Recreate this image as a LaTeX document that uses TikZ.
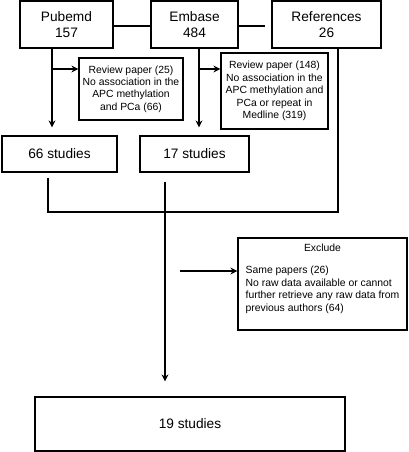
\documentclass[tikz,border=0pt]{standalone}
\usepackage{fontspec}
\setmainfont{Liberation Sans}
\usetikzlibrary{positioning,arrows.meta}
\tikzset{
	>={Stealth[length=7pt,width=7pt]},
	box/.style={draw, line width=1.2pt, inner sep=0pt, align=center, font=\fontsize{13.7}{16.5}\selectfont},
	smallbox/.style={draw, line width=1.2pt, inner sep=0pt, align=center, font=\fontsize{10.4}{12.4}\selectfont},
	link/.style={line width=1.6pt},
}

\begin{document}
\begin{tikzpicture}[x=1pt, y=-1pt]
        \useasboundingbox (0,0) rectangle (408,452);

        \node[box, minimum width=93pt, minimum height=47pt] (pub) at (66.5,24.5) {Pubemd\\157};
        \node[box, minimum width=87pt, minimum height=47pt] (emb) at (194.5,24.5) {Embase\\484};
        \node[box, minimum width=109pt, minimum height=47pt] (ref) at (326.5,24.5) {References\\26};

        \node[smallbox, minimum width=104pt, minimum height=62pt] (rev1) at (131,89)
            {Review paper (25)\\No association in the\\APC methylation\\and PCa (66)};
        \node[smallbox, minimum width=107pt, minimum height=76pt] (rev2) at (274.5,91)
            {Review paper (148)\\No association in the\\APC methylation and\\PCa or repeat in\\Medline (319)};

        \node[box, minimum width=115pt, minimum height=36pt] (stud66) at (59.5,154) {66 studies};
        \node[box, minimum width=109pt, minimum height=36pt] (stud17) at (194.5,154) {17 studies};

        \node[smallbox, align=left, minimum width=169pt, minimum height=92pt,
            label={[anchor=north, inner sep=0pt, yshift=-6pt, font=\fontsize{10.4}{12.4}\selectfont]north:Exclude}]
            (excl) at (322.5,284) {\rule{0pt}{19pt}Same papers (26)\\No raw data available or cannot\\further retrieve any raw data from\\previous authors (64)};

        \node[box, minimum width=310pt, minimum height=54pt] (final) at (190,424) {19 studies};

        \coordinate (gap) at (265,26);
        \coordinate (p1) at (52,69);
        \coordinate (p2) at (199,69);
        \coordinate (j1) at (48,212);
        \coordinate (j2) at (165,212);
        \coordinate (j3) at (338,212);
        \coordinate (ex) at (180,271);

        \draw[link] (pub.east |- gap) -- (emb.west |- gap);
        \draw[link] (emb.east |- gap) -- (gap);

        \begin{scope}[->]
            \draw[link, shorten >=8pt] (pub.south -| p1) -- (stud66.north -| p1);
            \draw[link] (p1) -- (p1 -| rev1.west);
            \draw[link, shorten >=8pt] (emb.south -| p2) -- (stud17.north -| p2);
            \draw[link] (p2) -- (p2 -| rev2.west);
            \draw[link, shorten >=15pt] (j2) -- (final.north -| j2);
            \draw[link] (ex) -- (ex -| excl.west);
        \end{scope}

        \draw[link, shorten <=5pt] (stud66.south -| j1) -- (j1) -- (j3) -- (ref.south -| j3);
        \draw[link, shorten <=9pt] (stud17.south -| j2) -- (j2);
\end{tikzpicture}
\end{document}
